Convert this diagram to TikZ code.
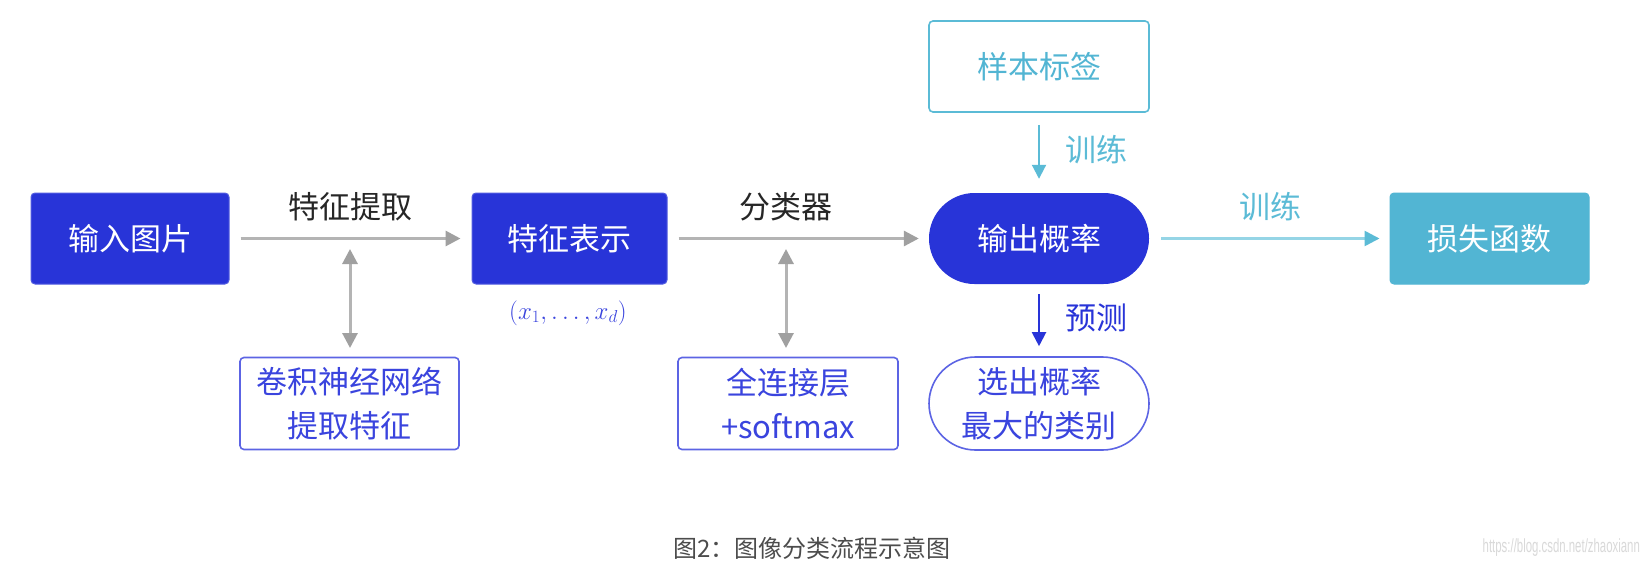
\documentclass[tikz,border=0pt]{standalone}
\usepackage{fontspec}
\usetikzlibrary{arrows.meta,shapes.misc}
\newfontfamily\cjk{Noto Sans CJK SC}
\newfontfamily\wmfont{Liberation Sans}
\definecolor{cblue}{HTML}{2834D8}
\definecolor{cbluetext}{HTML}{3A44DE}
\definecolor{cblueline}{HTML}{5C64E4}
\definecolor{cteal}{HTML}{52B5D3}
\definecolor{ctealline}{HTML}{5BBBD6}
\definecolor{ctealarrow}{HTML}{95D5E6}
\definecolor{cgray}{HTML}{B4B4B4}
\definecolor{cgrayhead}{HTML}{A0A0A0}
\tikzset{
  txt/.style={font=\cjk\fontsize{31}{44}\selectfont},
  fillbox/.style={txt, rounded corners=4pt, minimum width=198pt, minimum height=91pt, fill=cblue, draw=cblue!80, line width=1pt, text=white, inner sep=0pt},
  outbox/.style={txt, rounded corners=4pt, minimum width=220pt, minimum height=92pt, draw=cblueline, line width=1.6pt, text=cbluetext, align=center, inner sep=0pt},
  pillfill/.style={txt, rounded rectangle, minimum width=220pt, minimum height=91pt, fill=cblue, text=white, inner sep=0pt},
  pillout/.style={txt, rounded rectangle, minimum width=220pt, minimum height=93pt, draw=cblueline, line width=1.6pt, text=cbluetext, align=center, inner sep=0pt},
  grayarrow/.style={draw=cgray, line width=3pt, -{Triangle[length=15pt,width=15pt,color=cgrayhead]}},
  graydouble/.style={draw=cgray, line width=3pt, {Triangle[length=15pt,width=15pt,color=cgrayhead]}-{Triangle[length=15pt,width=15pt,color=cgrayhead]}},
  lbl/.style={txt, text=black!85},
}
\begin{document}
\begin{tikzpicture}[x=1pt,y=-1pt]
\useasboundingbox[fill=white] (0,0) rectangle (1648,578);

% main row
\node[fillbox] (in) at (130,238.5) {输入图片};
\node[fillbox, minimum width=195pt] (feat) at (569.5,238.5) {特征表示};
\node[pillfill] (out) at (1039,238.5) {输出概率};
\node[fillbox, fill=cteal, draw=cteal, minimum width=199pt] (loss) at (1489.5,238.5) {损失函数};

% lower row
\node[outbox, minimum width=219pt] (cnn) at (349.5,403.5) {卷积神经网络\\提取特征};
\node[outbox] (fc) at (788,403.5) {全连接层\\+softmax};
\node[pillout] (sel) at (1039,403.5) {选出概率\\最大的类别};

% top
\node[outbox, draw=ctealline, text=cteal, minimum height=91pt] (label) at (1039,66.5) {样本标签};

% vector label
\node[text=cbluetext, font=\fontsize{24}{28}\selectfont] (vec) at (568,313) {$(x_1,\ldots,x_d)$};

% horizontal arrows
\draw[grayarrow, shorten <=11pt, shorten >=11pt] (in.east) -- (feat.west);
\node[lbl] (l1) at (350,207) {特征提取};

\draw[grayarrow, shorten <=11pt, shorten >=10pt] (feat.east) -- (out.west);
\node[lbl] (l2) at (786,207) {分类器};

\draw[draw=ctealarrow, line width=2.5pt, -{Triangle[length=15pt,width=15pt,color=ctealline]}, shorten <=12pt, shorten >=10pt] (out.east) -- (loss.west);
\node[txt, text=ctealline] (l3) at (1270,207) {训练};

% vertical double arrows
\coordinate (d1t) at (350,249);
\coordinate (d1b) at (350,348);
\draw[graydouble] (d1t) -- (d1b);
\coordinate (d2t) at (786,249);
\coordinate (d2b) at (786,348);
\draw[graydouble] (d2t) -- (d2b);

% train / predict down arrows
\draw[draw=ctealline, line width=2pt, -{Triangle[length=14pt,width=14pt]}, shorten <=12pt, shorten >=14pt] (label.south) -- (out.north);
\node[txt, text=ctealline] (l4) at (1096,150) {训练};
\draw[draw=cblue, line width=2pt, -{Triangle[length=14pt,width=14pt]}, shorten <=10pt, shorten >=10pt] (out.south) -- (sel.north);
\node[txt, text=cblue] (l5) at (1096,318) {预测};

% caption
\node[font=\cjk\fontsize{24}{28}\selectfont, text=black!70] (cap) at (812,548) {图2：图像分类流程示意图};
\node[anchor=east, font=\wmfont\fontsize{19}{22}\selectfont, text=black!15, xscale=0.6] (wm) at (1642,548) {https://blog.csdn.net/zhaoxiann};
\end{tikzpicture}
\end{document}
